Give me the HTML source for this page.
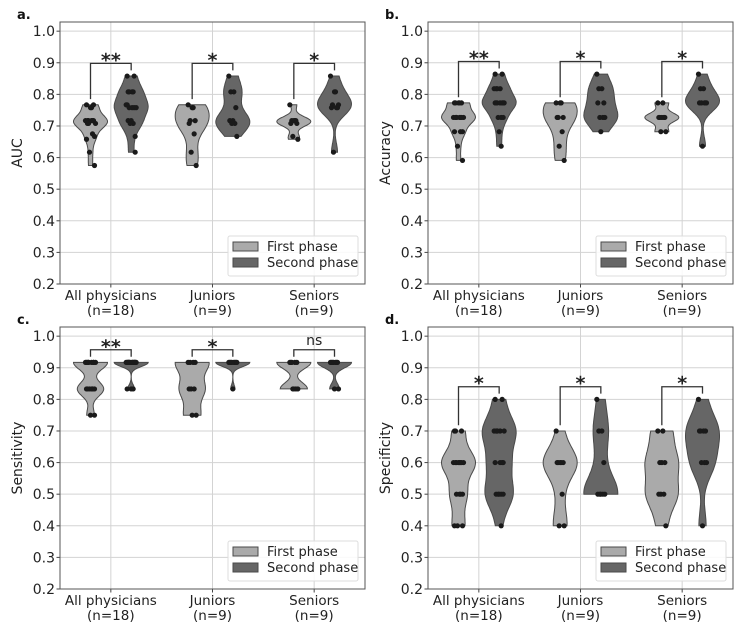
<!DOCTYPE html>
<html><head><meta charset="utf-8"><style>
html,body{margin:0;padding:0;background:#fff;}
svg{display:block;font-family:"DejaVu Sans","Liberation Sans",sans-serif;}
</style></head><body>
<svg id="fig" width="748" height="638" viewBox="0 0 748 638"></svg>
<script>
// ---- data ----
const categories = ["All physicians", "Juniors", "Seniors"];
const categoryCounts = ["(n=18)", "(n=9)", "(n=9)"];
const yTicks = [0.2,0.3,0.4,0.5,0.6,0.7,0.8,0.9,1.0];
const seriesNames = ["First phase", "Second phase"];

const aucJuniorsFirst = [0.767,0.758,0.717,0.717,0.708,0.675,0.617,0.575,0.758];
const aucSeniorsFirst = [0.767,0.717,0.717,0.708,0.708,0.717,0.667,0.658,0.717];
const aucJuniorsSecond = [0.858,0.808,0.808,0.758,0.717,0.708,0.708,0.667,0.717];
const aucSeniorsSecond = [0.858,0.808,0.767,0.758,0.758,0.758,0.617,0.767,0.808];

const accJuniorsFirst = [0.773,0.773,0.727,0.727,0.727,0.682,0.636,0.591,0.773];
const accSeniorsFirst = [0.773,0.773,0.727,0.727,0.727,0.727,0.682,0.682,0.727];
const accJuniorsSecond = [0.864,0.818,0.818,0.773,0.773,0.727,0.727,0.727,0.682];
const accSeniorsSecond = [0.864,0.818,0.818,0.773,0.773,0.773,0.773,0.773,0.636];

const senJuniorsFirst = [0.917,0.917,0.917,0.917,0.833,0.833,0.833,0.75,0.75];
const senSeniorsFirst = [0.917,0.917,0.917,0.917,0.917,0.833,0.833,0.833,0.833];
const senJuniorsSecond = [0.917,0.917,0.917,0.917,0.917,0.917,0.917,0.917,0.833];
const senSeniorsSecond = [0.917,0.917,0.917,0.917,0.917,0.917,0.917,0.833,0.833];

const speJuniorsFirst = [0.7,0.6,0.6,0.6,0.6,0.5,0.4,0.4,0.6];
const speSeniorsFirst = [0.7,0.7,0.6,0.6,0.5,0.5,0.5,0.4,0.6];
const speJuniorsSecond = [0.8,0.7,0.7,0.6,0.5,0.5,0.5,0.5,0.5];
const speSeniorsSecond = [0.8,0.7,0.7,0.7,0.7,0.6,0.6,0.6,0.4];

const aucSignif = ["**","*","*"];
const accSignif = ["**","*","*"];
const senSignif = ["**","*","ns"];
const speSignif = ["*","*","*"];

// ---- drawing ----
const NS="http://www.w3.org/2000/svg";
const svg=document.getElementById('fig');
function mk(tag,attrs,parent){const e=document.createElementNS(NS,tag);for(const k in attrs)e.setAttribute(k,attrs[k]);(parent||svg).appendChild(e);return e;}
const fills=["#aaaaaa","#666666"];
const jit=[-4,1,-2,3,-3,2,-1,4,0,3,-3,-5,5,-2,1,4,-4,2];

function kdePath(vals,cx,yS,halfW){
  const n=vals.length, mean=vals.reduce((a,b)=>a+b,0)/n;
  let sd=Math.sqrt(vals.reduce((a,b)=>a+(b-mean)*(b-mean),0)/(n-1));
  if(sd<1e-6)sd=0.01;
  const bw=0.72*sd*Math.pow(n,-0.2);
  const lo=Math.min(...vals), hi=Math.max(...vals);
  const N=60, pts=[]; let mx=0;
  for(let i=0;i<=N;i++){const v=lo+(hi-lo)*i/N;let d=0;for(const x of vals)d+=Math.exp(-0.5*((v-x)/bw)**2);pts.push([v,d]);if(d>mx)mx=d;}
  let r=pts.map(p=>[cx+p[1]/mx*halfW,yS(p[0])]);
  let l=pts.slice().reverse().map(p=>[cx-p[1]/mx*halfW,yS(p[0])]);
  return "M"+r.concat(l).map(p=>p[0].toFixed(1)+","+p[1].toFixed(1)).join("L")+"Z";
}

function panel(L,T,label,yTitle,groups,signif,pname){
  const W=305,H=262,ymin=0.2,ymax=1.029;
  const g=mk('g',{});
  
  
  const yS=v=>T+H-(v-ymin)/(ymax-ymin)*H;
  const xS=c=>L+(c+0.5)/3*W;
  yTicks.forEach(t=>{
    const ln=mk('line',{x1:L,x2:L+W,y1:yS(t),y2:yS(t),stroke:"#d3d3d3","stroke-width":1},g);
    
    mk('line',{x1:L-3.5,x2:L,y1:yS(t),y2:yS(t),stroke:"#444"},g);
    const tx=mk('text',{x:L-5,y:yS(t)+5,"text-anchor":"end","font-size":14,fill:"#222"},g);
    tx.textContent=t.toFixed(1);
    
  });
  categories.forEach((c,i)=>{
    const ln=mk('line',{x1:xS(i),x2:xS(i),y1:T,y2:T+H,stroke:"#d3d3d3"},g);
    
    mk('line',{x1:xS(i),x2:xS(i),y1:T+H,y2:T+H+3.5,stroke:"#444"},g);
    const t1=mk('text',{x:xS(i),y:T+H+16,"text-anchor":"middle","font-size":13.5,fill:"#222"},g);
    t1.textContent=c;
    const t2=mk('text',{x:xS(i),y:T+H+31,"text-anchor":"middle","font-size":13.5,fill:"#222"},g);
    t2.textContent=categoryCounts[i];
  });
  groups.forEach((pair,i)=>{
    const maxes=[];
    pair.forEach((vals,s)=>{
      const cx=xS(i)+(s===0?-0.2:0.2)*W/3;
      const p=mk('path',{d:kdePath(vals,cx,yS,17),fill:fills[s],stroke:"#4a4a4a","stroke-width":1},g);
      
      
      vals.forEach((v,k)=>{
        const d=mk('circle',{cx:cx+jit[k%jit.length],cy:yS(v),r:2.6,fill:"#1a1a1a"},g);
        
      });
      maxes.push({cx:cx,m:Math.max(...vals)});
    });
    const top=Math.max(maxes[0].m,maxes[1].m)+0.04;
    const br=mk('path',{d:`M${maxes[0].cx},${yS(maxes[0].m+0.018)}V${yS(top)}H${maxes[1].cx}V${yS(maxes[1].m+0.018)}`,fill:"none",stroke:"#333","stroke-width":1.3},g);
    
    const ns=signif[i]==="ns";
    const st=mk('text',{x:(maxes[0].cx+maxes[1].cx)/2,y:yS(top)-(ns?5:-3),"text-anchor":"middle","font-size":ns?14:19,"font-weight":ns?"normal":"bold",fill:"#222"},g);
    st.textContent=signif[i];
  });
  const fr=mk('rect',{x:L,y:T,width:W,height:H,fill:"none",stroke:"#555","stroke-width":1},g);
  
  const yt=mk('text',{x:0,y:0,transform:`translate(${L-38},${T+H/2}) rotate(-90)`,"text-anchor":"middle","font-size":14,fill:"#222"},g);
  yt.textContent=yTitle;
  const pl=mk('text',{x:L-43,y:T-3,"font-size":13,"font-weight":"bold",fill:"#111"},g);
  pl.textContent=label;
  const lg=mk('g',{},g);
  
  mk('rect',{x:L+168,y:T+214,width:130,height:40,rx:2,fill:"#fff","fill-opacity":0.85,stroke:"#ddd"},lg);
  seriesNames.forEach((n,s)=>{
    const pr=mk('rect',{x:L+173,y:T+220+s*16,width:25,height:9,fill:fills[s],stroke:"#4a4a4a"},lg);
    
    const lt=mk('text',{x:L+207,y:T+229+s*16,"font-size":13,fill:"#222"},lg);
    lt.textContent=n;
  });
}
function grp(jf,sf,js,ss){return [[jf.concat(sf),js.concat(ss)],[jf,js],[sf,ss]];}
panel(60,22,"a.","AUC",grp(aucJuniorsFirst,aucSeniorsFirst,aucJuniorsSecond,aucSeniorsSecond),aucSignif,"panel-auc");
panel(428,22,"b.","Accuracy",grp(accJuniorsFirst,accSeniorsFirst,accJuniorsSecond,accSeniorsSecond),accSignif,"panel-accuracy");
panel(60,327,"c.","Sensitivity",grp(senJuniorsFirst,senSeniorsFirst,senJuniorsSecond,senSeniorsSecond),senSignif,"panel-sensitivity");
panel(428,327,"d.","Specificity",grp(speJuniorsFirst,speSeniorsFirst,speJuniorsSecond,speSeniorsSecond),speSignif,"panel-specificity");
</script>
</body></html>
